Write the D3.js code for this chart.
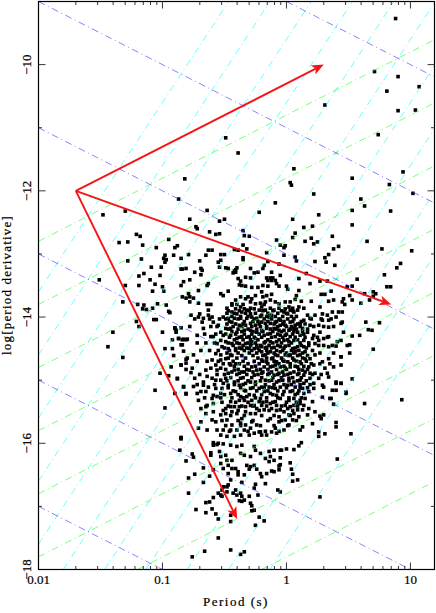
<!DOCTYPE html>
<html><head><meta charset="utf-8">
<script src="https://cdn.jsdelivr.net/npm/d3@7"></script>
<style>html,body{margin:0;padding:0;background:#fff}svg{display:block}text{font-family:"Liberation Serif",serif;fill:#000;stroke:#000;stroke-width:.22px}</style>
</head><body><div id="chart"></div>
<script>
// ---------- data (log10 period [s], log10 period derivative) ----------
const xTickValues = [0.01, 0.1, 1, 10];
const xTickLabels = ["0.01", "0.1", "1", "10"];
const yTickValues = [-10, -12, -14, -16, -18];
const yMinorValues = [-11, -13, -15, -17];
const xTitle = "Period (s)";
const yTitle = "log[period derivative]";
const bFieldLevels = [-9, -11, -13, -15, -17, -19];               // log(P*Pdot)
const ageLevels = [-10.8, -11.8, -12.8, -13.8, -14.8, -15.8, -16.8, -17.8]; // log(Pdot/P)
const edotLevels = [-7.6, -8.6, -9.6, -10.6, -11.6, -12.6, -13.6, -14.6, -15.6, -16.6, -17.6]; // log(Pdot/P^3)
const arrowOrigin = [0.02, -12];
const arrowTargets = [[2, -10], [7, -13.8], [0.4, -17.2]];

const pulsarsUpperLeft = [[-0.82,-11.81],[-0.87,-12.13],[-1.48,-12.38],[-1.30,-12.32],[-0.64,-12.31],[-0.78,-12.45],[-0.73,-12.57],[-0.72,-12.60],[-0.62,-12.65],[-0.57,-12.69],[-1.21,-12.69],[-1.18,-12.72],[-0.95,-12.77],[-1.35,-12.82],[-1.28,-12.81],[-1.16,-12.86],[-1.05,-12.90],[-0.90,-12.90],[-0.88,-12.87],[-0.63,-12.94],[-0.60,-12.94],[-0.79,-13.01],[-0.98,-13.02],[-0.91,-13.02],[-0.99,-13.07],[-0.97,-13.09],[-1.28,-13.11],[-1.17,-13.08],[-0.85,-13.07],[-0.70,-13.11],[-0.65,-13.02],[-0.98,-13.13],[-1.09,-13.21],[-1.01,-13.21],[-0.85,-13.24],[-0.84,-13.24],[-0.81,-13.23],[-0.69,-13.23],[-0.68,-13.26],[-1.15,-13.31],[-1.19,-13.35],[-1.02,-13.34],[-0.74,-13.29],[-0.69,-13.33],[-1.51,-13.41],[-1.10,-13.41],[-0.83,-13.44],[-0.78,-13.41],[-0.63,-13.47],[-0.64,-13.50],[-1.30,-13.50],[-1.19,-13.50],[-1.06,-13.48],[-0.85,-13.50],[-1.00,-13.52],[-0.99,-13.59],[-1.08,-13.59],[-0.71,-13.58],[-0.84,-13.68],[-0.79,-13.63],[-0.78,-13.68],[-0.81,-13.70],[-0.75,-13.70],[-1.32,-13.76],[-0.78,-13.76],[-1.20,-13.80],[-1.04,-13.79],[-0.71,-13.78],[-0.64,-13.80],[-0.61,-13.80],[-1.15,-13.81],[-0.97,-13.81]];

const pulsarsUpperRight = [[0.88,-9.27],[0.71,-10.11],[0.90,-10.19],[1.07,-10.35],[0.81,-10.42],[0.31,-10.64],[0.90,-10.73],[1.04,-10.72],[0.74,-11.11],[-0.49,-11.16],[-0.39,-11.40],[0.06,-11.65],[0.94,-11.70],[0.53,-11.80],[0.03,-11.87],[0.04,-11.91],[0.83,-11.90],[0.22,-12.05],[1.02,-12.04],[0.60,-12.13],[-0.09,-12.19],[0.63,-12.24],[0.53,-12.31],[0.84,-12.32],[-0.22,-12.34],[0.26,-12.38],[0.53,-12.54],[-0.50,-12.45],[-0.54,-12.48],[0.05,-12.45],[0.14,-12.58],[0.21,-12.56],[-0.35,-12.63],[0.07,-12.67],[0.05,-12.74],[-0.54,-12.68],[-0.34,-12.71],[-0.30,-12.72],[0.37,-12.72],[0.20,-12.75],[0.65,-12.80],[-0.08,-12.78],[0.15,-12.80],[0.25,-12.81],[0.22,-12.84],[-0.35,-12.86],[-0.05,-12.86],[-0.01,-12.87],[-0.02,-12.90],[0.42,-12.88],[0.38,-12.92],[-0.32,-12.92],[-0.42,-12.93],[-0.39,-12.94],[-0.16,-12.98],[0.77,-12.92],[1.01,-12.95],[0.34,-13.01],[-0.02,-13.02],[-0.53,-13.01],[-0.50,-13.01],[0.07,-13.05],[0.31,-13.06],[-0.35,-13.06],[-0.35,-13.09],[-0.53,-13.10],[0.08,-13.11],[0.23,-13.12],[0.32,-13.13],[-0.15,-13.12],[-0.55,-13.13],[0.92,-13.15],[-0.06,-13.16],[0.39,-13.18],[0.89,-13.22],[-0.18,-13.18],[-0.19,-13.23],[-0.54,-13.21],[-0.49,-13.22],[-0.47,-13.23],[-0.40,-13.22],[-0.29,-13.23],[-0.42,-13.27],[-0.41,-13.25],[-0.43,-13.30],[-0.41,-13.29],[-0.23,-13.29],[-0.26,-13.30],[-0.12,-13.29],[-0.05,-13.34],[0.16,-13.31],[0.79,-13.33],[-0.33,-13.37],[-0.29,-13.38],[-0.16,-13.38],[-0.13,-13.38],[-0.11,-13.38],[-0.15,-13.42],[-0.12,-13.42],[-0.09,-13.42],[0.10,-13.39],[-0.39,-13.39],[-0.37,-13.43],[-0.38,-13.49],[-0.36,-13.50],[0.57,-13.40],[0.27,-13.43],[0.33,-13.43],[0.19,-13.47],[0.81,-13.52],[0.84,-13.52],[0.53,-13.51],[0.49,-13.52],[-0.33,-13.51],[-0.28,-13.53],[-0.23,-13.53],[-0.19,-13.50],[-0.15,-13.51],[-0.08,-13.47],[-0.06,-13.51],[0.00,-13.51],[0.01,-13.56],[0.10,-13.58],[0.08,-13.66],[-0.47,-13.59],[-0.53,-13.63],[-0.51,-13.66],[-0.20,-13.60],[0.36,-13.59],[0.63,-13.63],[0.70,-13.60],[0.72,-13.63],[0.51,-13.66],[0.46,-13.71],[0.45,-13.76],[0.47,-13.80],[0.28,-13.64],[0.31,-13.64],[0.53,-13.73],[0.67,-13.73],[0.70,-13.67],[0.60,-13.78],[0.34,-13.75],[0.38,-13.73],[-0.12,-13.64],[-0.16,-13.66],[-0.19,-13.68],[-0.25,-13.66],[-0.28,-13.71],[-0.31,-13.68],[-0.33,-13.71],[-0.37,-13.68],[-0.41,-13.73],[-0.44,-13.79],[-0.40,-13.80],[-0.29,-13.76],[-0.25,-13.79],[-0.21,-13.78],[-0.17,-13.76],[-0.13,-13.73],[-0.09,-13.76],[-0.06,-13.79],[-0.01,-13.76],[0.03,-13.76],[0.07,-13.72]];

const pulsarsRightEdge = [[0.64,-14.08],[0.75,-14.09],[0.66,-14.20],[0.69,-14.21],[0.53,-14.30],[0.59,-14.29],[0.70,-14.51],[0.51,-14.44],[0.49,-14.45],[0.51,-14.57],[0.44,-14.63],[0.53,-14.98],[0.40,-15.03],[0.44,-15.05],[0.48,-15.19],[0.40,-15.16],[0.36,-15.29],[0.38,-15.38],[0.63,-15.37],[0.93,-15.31],[0.40,-15.67],[0.40,-15.74],[0.52,-15.85],[0.31,-15.85],[0.26,-15.82],[0.26,-15.89],[0.41,-16.25],[0.27,-16.85],[0.27,-15.57],[0.28,-15.61],[0.21,-15.69]];

const pulsarsLowerCore = [[0.05,-16.60],[0.09,-16.58],[0.03,-16.31],[0.04,-16.41],[0.05,-16.49],[0.12,-15.99],[0.10,-16.04],[0.06,-16.10],[0.00,-16.09],[-0.04,-16.11],[-0.05,-16.23],[-0.06,-16.36],[-0.12,-16.44],[-0.22,-17.17],[-0.18,-17.23],[-0.25,-17.30],[-0.45,-17.14],[-0.45,-17.24],[-0.45,-17.69],[-0.37,-17.76],[-0.34,-17.72],[-0.55,-17.20],[-0.55,-17.50],[-0.86,-16.11],[-0.76,-16.17],[-0.75,-16.22],[-0.81,-16.28],[-0.61,-16.19],[-0.67,-16.39],[-0.59,-16.42],[-0.74,-16.49],[-0.79,-16.55],[-0.62,-16.52],[-0.67,-16.62],[-0.79,-16.79],[-0.65,-16.94],[-0.62,-16.93],[-0.59,-16.86],[-0.73,-17.05],[-0.60,-17.04],[-0.65,-17.10],[-0.57,-17.12],[-0.66,-17.71],[-0.76,-17.80],[-0.53,-16.82],[-0.52,-16.84],[-0.55,-16.79],[-0.52,-16.74],[-0.51,-16.69],[-0.48,-16.69],[-0.47,-16.66],[-0.45,-16.58],[-0.47,-16.48],[-0.48,-16.77],[-0.41,-16.74],[-0.43,-16.79],[-0.40,-16.82],[-0.37,-16.79],[-0.36,-16.84],[-0.30,-16.84],[-0.38,-16.91],[-0.36,-16.92],[-0.34,-16.90],[-0.29,-16.95],[-0.28,-16.99],[-0.26,-17.06],[-0.28,-17.07],[-0.07,-16.74],[-0.05,-16.77],[-0.26,-16.71],[-0.23,-16.82],[-0.36,-16.62],[-0.25,-16.65],[-0.17,-16.64],[-0.39,-16.50],[-0.34,-16.50],[-0.29,-16.37],[-0.32,-16.35],[-0.26,-16.35],[-0.30,-16.41],[-0.24,-16.41],[-0.21,-16.48],[-0.20,-16.53],[-0.16,-16.48],[-0.10,-16.45],[-0.06,-16.42],[-0.05,-16.34],[-0.59,-16.03],[-0.55,-16.00],[-0.51,-16.01],[-0.45,-16.03],[-0.40,-16.05],[-0.36,-16.03],[-0.54,-16.13],[-0.53,-16.21],[-0.49,-16.19],[-0.48,-16.27],[-0.53,-16.32],[-0.44,-16.27],[-0.37,-16.16],[-0.34,-16.19],[-0.29,-16.21],[-0.25,-16.11],[-0.21,-16.16],[-0.14,-16.13],[-0.10,-16.11],[-0.05,-16.11],[-0.26,-16.05],[-0.17,-16.24],[-0.13,-16.21],[-0.10,-16.27],[-0.14,-16.29],[-0.51,-16.40],[-0.41,-16.40],[-0.39,-16.45],[-0.47,-16.35],[-0.44,-16.40]];

const pulsarsLeftEdge = [[-1.40,-14.24],[-1.44,-14.47],[-1.32,-14.64],[-1.21,-14.07],[-1.19,-14.15],[-1.16,-13.87],[-1.13,-13.88],[-1.08,-13.86],[-1.07,-14.04],[-1.05,-14.04],[-1.00,-14.24],[-0.94,-13.93],[-0.95,-13.91],[-0.90,-14.17],[-0.89,-14.21],[-0.85,-14.17],[-0.92,-14.36],[-0.87,-14.34],[-0.84,-14.36],[-0.81,-14.36],[-0.98,-14.50],[-0.92,-14.50],[-0.91,-14.61],[-0.83,-14.54],[-0.84,-14.44],[-1.02,-14.89],[-0.95,-14.93],[-0.93,-14.79],[-0.85,-14.76],[-1.06,-15.16],[-0.90,-15.21],[-0.81,-15.22],[-0.98,-15.44],[-0.88,-14.98],[-0.83,-15.10],[-0.81,-14.83],[-0.81,-14.73],[-0.80,-14.65],[-0.85,-15.93],[-0.85,-15.91],[-0.61,-16.15],[-0.59,-15.99],[-0.56,-16.02]];

const pulsarsCoreNW = [[-0.44,-13.81],[-0.37,-13.84],[-0.41,-13.87],[-0.34,-13.87],[-0.26,-13.87],[-0.63,-13.89],[-0.32,-13.89],[-0.22,-13.89],[-0.44,-13.92],[-0.36,-13.92],[-0.70,-13.95],[-0.40,-13.95],[-0.29,-13.95],[-0.77,-13.97],[-0.63,-13.97],[-0.71,-14.00],[-0.60,-14.00],[-0.51,-14.00],[-0.28,-14.00],[-0.67,-14.02],[-0.47,-14.02],[-0.42,-14.02],[-0.37,-14.02],[-0.32,-14.02],[-0.24,-14.02],[-0.68,-14.08],[-0.59,-14.08],[-0.44,-14.08],[-0.29,-14.10],[-0.55,-14.13],[-0.38,-14.13],[-0.33,-14.13],[-0.25,-14.13],[-0.90,-14.18],[-0.67,-14.18],[-0.49,-14.18],[-0.45,-14.18],[-0.34,-14.21],[-0.29,-14.21],[-0.89,-14.24],[-0.53,-14.24],[-0.40,-14.24],[-0.24,-14.24],[-0.72,-14.29],[-0.51,-14.29],[-0.45,-14.29],[-0.59,-14.31],[-0.61,-14.31],[-0.36,-14.31],[-0.30,-14.31],[-0.87,-14.34],[-0.40,-14.34],[-0.25,-14.34],[-0.83,-14.35],[-0.80,-14.35],[-0.53,-14.37],[-0.49,-14.39],[-0.28,-14.39],[-0.56,-14.42],[-0.44,-14.42],[-0.38,-14.42],[-0.33,-14.42],[-0.28,-14.42],[-0.85,-14.44],[-0.24,-14.45],[-0.52,-14.47],[-0.47,-14.50],[-0.41,-14.50],[-0.36,-14.50],[-0.30,-14.50],[-0.26,-14.50]];

const pulsarsCoreNE = [[-0.20,-13.84],[-0.17,-13.89],[-0.20,-13.97],[-0.14,-14.00],[-0.12,-13.97],[-0.10,-13.89],[-0.01,-13.87],[0.02,-13.84],[-0.02,-13.92],[0.01,-13.95],[0.03,-13.89],[0.06,-13.92],[0.09,-13.89],[0.10,-13.84],[0.17,-13.97],[0.23,-13.97],[0.27,-13.84],[0.29,-13.95],[0.33,-13.97],[0.37,-13.92],[0.42,-13.92],[0.45,-13.92],[-0.20,-14.08],[-0.17,-14.10],[-0.13,-14.10],[-0.09,-14.08],[-0.05,-14.05],[-0.05,-14.13],[-0.01,-14.13],[0.03,-14.08],[0.07,-14.13],[0.11,-14.10],[0.14,-14.05],[0.19,-14.02],[0.29,-14.05],[0.34,-14.05],[0.40,-14.00],[0.45,-14.08],[-0.20,-14.21],[-0.16,-14.18],[-0.10,-14.18],[-0.06,-14.21],[-0.02,-14.21],[0.02,-14.21],[0.06,-14.18],[0.09,-14.24],[0.13,-14.18],[0.19,-14.13],[0.26,-14.13],[0.34,-14.16],[0.44,-14.10],[0.46,-14.24],[-0.18,-14.29],[-0.13,-14.26],[-0.09,-14.31],[-0.05,-14.29],[-0.01,-14.29],[0.03,-14.31],[0.11,-14.29],[0.17,-14.24],[0.21,-14.34],[0.27,-14.24],[0.34,-14.31],[-0.17,-14.39],[-0.13,-14.39],[-0.08,-14.39],[-0.02,-14.37],[0.02,-14.39],[0.06,-14.37],[0.14,-14.37],[0.22,-14.29],[0.26,-14.37],[0.30,-14.34],[0.41,-14.39],[-0.20,-14.47],[-0.16,-14.48],[-0.10,-14.48],[-0.05,-14.47],[-0.01,-14.46],[0.05,-14.50],[0.09,-14.47],[0.14,-14.47],[0.18,-14.45],[0.23,-14.42],[0.30,-14.45],[0.34,-14.47],[0.40,-14.46],[0.44,-14.37]];

const pulsarsCoreSW = [[-0.81,-14.67],[-0.85,-14.76],[-0.75,-14.60],[-0.76,-14.81],[-0.77,-14.88],[-0.65,-14.84],[-0.64,-14.94],[-0.74,-14.97],[-0.88,-14.97],[-0.75,-15.10],[-0.83,-15.11],[-0.81,-15.21],[-0.72,-15.21],[-0.69,-15.18],[-0.65,-15.18],[-0.67,-15.03],[-0.67,-15.08],[-0.60,-14.97],[-0.63,-15.11],[-0.57,-15.13],[-0.59,-15.24],[-0.71,-15.32],[-0.69,-15.45],[-0.65,-15.42],[-0.64,-15.40],[-0.59,-15.37],[-0.60,-15.29],[-0.56,-15.26],[-0.53,-15.21],[-0.52,-15.13],[-0.51,-15.05],[-0.47,-15.08],[-0.49,-14.97],[-0.53,-15.00],[-0.57,-15.00],[-0.56,-14.84],[-0.61,-14.81],[-0.57,-14.76],[-0.53,-14.81],[-0.51,-14.74],[-0.60,-14.68],[-0.57,-14.58],[-0.53,-14.60],[-0.49,-14.66],[-0.53,-14.68],[-0.45,-14.60],[-0.45,-14.76],[-0.41,-14.74],[-0.42,-14.84],[-0.38,-14.89],[-0.47,-14.89],[-0.37,-14.97],[-0.42,-15.03],[-0.38,-15.08],[-0.34,-14.87],[-0.30,-14.84],[-0.26,-14.92],[-0.28,-14.79],[-0.24,-14.84],[-0.33,-15.05],[-0.29,-15.03],[-0.25,-15.03],[-0.34,-15.16],[-0.41,-15.18],[-0.45,-15.21],[-0.29,-15.13],[-0.22,-15.13],[-0.37,-15.26],[-0.32,-15.26],[-0.26,-15.24],[-0.38,-15.32],[-0.34,-15.32],[-0.28,-15.32],[-0.22,-15.34],[-0.45,-15.34],[-0.49,-15.45],[-0.45,-15.42],[-0.42,-15.42],[-0.44,-15.50],[-0.49,-15.53],[-0.53,-15.55],[-0.57,-15.66],[-0.60,-15.63],[-0.38,-15.42],[-0.33,-15.42],[-0.29,-15.40],[-0.26,-15.40],[-0.24,-15.45],[-0.40,-15.53],[-0.36,-15.61],[-0.33,-15.50],[-0.29,-15.53],[-0.25,-15.53],[-0.59,-15.50],[-0.65,-15.53],[-0.71,-15.76],[-0.64,-15.79],[-0.69,-15.66],[-0.48,-15.63],[-0.44,-15.71],[-0.37,-15.68],[-0.33,-15.71],[-0.28,-15.66],[-0.24,-15.71],[-0.56,-15.79],[-0.51,-15.79],[-0.45,-15.79],[-0.40,-15.79],[-0.34,-15.79],[-0.29,-15.76],[-0.53,-15.87],[-0.48,-15.89],[-0.42,-15.89],[-0.37,-15.87],[-0.30,-15.87],[-0.26,-15.84],[-0.85,-15.91],[-0.22,-15.82]];

const pulsarsCoreSE = [[-0.20,-14.55],[-0.13,-14.55],[-0.05,-14.55],[0.07,-14.55],[0.15,-14.55],[-0.17,-14.60],[-0.09,-14.60],[-0.01,-14.60],[0.03,-14.60],[0.11,-14.60],[0.23,-14.60],[0.44,-14.63],[-0.12,-14.66],[0.15,-14.66],[0.19,-14.66],[0.34,-14.66],[-0.20,-14.68],[-0.03,-14.68],[0.06,-14.68],[-0.16,-14.71],[-0.08,-14.71],[0.01,-14.71],[0.11,-14.71],[0.29,-14.71],[-0.09,-14.76],[0.22,-14.76],[0.44,-14.76],[-0.18,-14.79],[-0.13,-14.79],[-0.05,-14.79],[0.03,-14.79],[0.09,-14.79],[0.18,-14.79],[0.38,-14.79],[-0.01,-14.81],[0.31,-14.81],[0.13,-14.84],[-0.20,-14.89],[-0.14,-14.89],[-0.06,-14.89],[0.03,-14.89],[0.10,-14.89],[0.19,-14.89],[0.23,-14.89],[0.33,-14.89],[-0.10,-14.92],[-0.02,-14.92],[0.14,-14.92],[0.34,-14.95],[0.02,-14.97],[0.19,-14.97],[0.26,-14.97],[-0.17,-15.00],[-0.12,-15.00],[-0.03,-15.00],[0.11,-15.00],[-0.08,-15.03],[0.06,-15.03],[0.14,-15.05],[0.22,-15.05],[0.40,-15.05],[0.44,-15.05],[0.29,-15.08],[0.01,-15.08],[-0.20,-15.11],[-0.14,-15.11],[-0.05,-15.11],[0.07,-15.11],[0.30,-15.11],[-0.09,-15.13],[0.13,-15.13],[0.22,-15.13],[0.37,-15.16],[-0.18,-15.18],[-0.02,-15.18],[0.03,-15.18],[0.18,-15.18],[-0.13,-15.21],[0.09,-15.21],[0.14,-15.21],[0.48,-15.21],[-0.08,-15.24],[0.29,-15.27],[-0.21,-15.29],[-0.05,-15.29],[0.06,-15.29],[0.15,-15.29],[0.35,-15.29],[0.02,-15.32],[0.11,-15.32],[-0.16,-15.34],[-0.09,-15.34],[0.21,-15.34],[-0.13,-15.37],[0.11,-15.37],[-0.20,-15.40],[-0.08,-15.40],[-0.01,-15.40],[0.06,-15.40],[0.14,-15.40],[0.03,-15.42],[-0.12,-15.45],[0.01,-15.45],[0.18,-15.45],[-0.18,-15.47],[-0.05,-15.47],[0.09,-15.47],[0.13,-15.47],[-0.02,-15.50],[0.23,-15.50],[0.06,-15.53],[0.02,-15.55],[0.17,-15.55],[0.30,-15.55],[-0.06,-15.58],[0.10,-15.58],[-0.13,-15.61],[-0.01,-15.63],[0.05,-15.63],[-0.06,-15.66],[0.02,-15.71],[0.13,-15.74],[-0.09,-15.76],[0.11,-15.79],[-0.02,-15.79],[-0.12,-15.82],[-0.21,-15.82],[-0.08,-15.84],[-0.16,-15.87],[-0.20,-15.87]];

// dense central blob: rows of log Pdot with the log P values seen along each row
const denseRowPdot = [-13.75,-13.80,-13.86,-13.90,-13.94,-13.99,-14.03,-14.07,-14.11,-14.15,-14.19,-14.23,-14.27,-14.32,-14.36,-14.41,-14.45,-14.49,-14.53,-14.57,-14.61,-14.65,-14.70,-14.74,-14.78,-14.83,-14.87,-14.91,-14.96,-15.01,-15.07,-15.12,-15.17,-15.23,-15.28,-15.35,-15.41,-15.48,-15.56,-15.64,-15.72,-15.81];
const denseRowPeriods = [
 [0.12,0.20],[-0.35,-0.18],[-0.48,-0.29,-0.13,-0.06,0.05,0.14],
 [-0.47,-0.38,-0.30,-0.19,-0.11,-0.04,0.05],[-0.48,-0.42,-0.33,-0.25,-0.15,-0.07,0.00],
 [-0.44,-0.37,-0.31,-0.21,-0.16,-0.09,-0.03,0.04,0.08],[-0.49,-0.39,-0.26,-0.18,-0.12,-0.06,0.01,0.06,-0.74,-0.62,-0.54,0.20,0.28,0.36],
 [-0.46,-0.34,-0.27,-0.23,-0.15,-0.08,-0.02,0.05,0.12],[-0.48,-0.41,-0.35,-0.22,-0.10,-0.03,0.09,0.15],
 [-0.43,-0.36,-0.28,-0.21,-0.16,-0.07,0.00,0.04,0.11,-0.78,-0.61,-0.56,0.22,0.30,0.38],[-0.47,-0.39,-0.31,-0.24,-0.13,-0.08,0.03,0.08,0.17],
 [-0.44,-0.36,-0.27,-0.19,-0.11,-0.04,0.06,0.13],[-0.49,-0.41,-0.34,-0.28,-0.22,-0.15,-0.07,0.00,0.05,0.14,-0.66,-0.57],
 [-0.46,-0.38,-0.32,-0.26,-0.20,-0.12,-0.03,0.07,0.15,0.25,0.33],[-0.42,-0.35,-0.29,-0.23,-0.15,-0.06,0.01,0.09],
 [-0.47,-0.40,-0.31,-0.25,-0.18,-0.11,-0.04,0.04,0.11,0.18,-0.72,-0.65,-0.58],[-0.43,-0.35,-0.29,-0.21,-0.14,-0.07,0.02,0.12,0.26,0.37],
 [-0.50,-0.38,-0.32,-0.23,-0.17,-0.12,-0.02,0.07,0.16],[-0.46,-0.41,-0.34,-0.28,-0.22,-0.16,-0.08,-0.03,0.04,0.10,0.21,-0.69,-0.62,-0.55],
 [-0.48,-0.39,-0.30,-0.24,-0.15,-0.10,0.00,0.06,0.13,0.27,0.38],[-0.44,-0.36,-0.27,-0.19,-0.07,0.02,0.09,0.17],
 [-0.47,-0.40,-0.33,-0.23,-0.16,-0.11,-0.04,0.05,0.13],[-0.43,-0.35,-0.26,-0.19,-0.10,-0.02,0.08,0.16,-0.72,-0.64,-0.55],
 [-0.46,-0.38,-0.31,-0.22,-0.15,-0.06,0.03,0.12,0.20,0.27,0.35],[-0.42,-0.34,-0.25,-0.11,-0.02,0.07,0.14],
 [-0.49,-0.39,-0.32,-0.21,-0.15,-0.08,0.00,0.10,0.17],[-0.44,-0.36,-0.27,-0.19,-0.12,-0.03,0.06,0.15],
 [-0.50,-0.40,-0.32,-0.23,-0.15,-0.07,0.01,0.09,0.21,-0.70,-0.56,0.28],[-0.45,-0.35,-0.28,-0.20,-0.11,-0.04,0.05,0.12],
 [-0.48,-0.39,-0.31,-0.21,-0.14,-0.06,0.02,0.09,0.16],[-0.42,-0.35,-0.25,-0.17,-0.10,-0.02,0.04,0.11,0.19,-0.58,-0.72],
 [-0.47,-0.37,-0.27,-0.18,-0.11,0.00,0.11,0.17],[-0.43,-0.33,-0.24,-0.15,-0.07,0.05,0.10],
 [-0.50,-0.39,-0.30,-0.20,-0.11,-0.03,0.07],[-0.44,-0.35,-0.25,-0.16,-0.07,0.02,0.12,-0.66,-0.53],
 [-0.52,-0.41,-0.31,-0.19,-0.11,0.00,0.08],[-0.47,-0.36,-0.27,-0.16,-0.04,0.09],
 [-0.51,-0.39,-0.22,-0.14,-0.08,0.05],[-0.45,-0.34,-0.20,-0.10,0.03],
 [-0.52,-0.39,-0.27,-0.15,-0.04,0.08],[-0.49,-0.37,-0.21,-0.10,0.01],[-0.46,-0.31,-0.17,-0.06]
];

// ---------- chart ----------
const W = 436, H = 613;
const plot = {l: 38.5, r: 434.5, t: 1.5, b: 569.5};
const x = d3.scaleLog().domain([0.01, 15.63]).range([plot.l, plot.r]);
const y = d3.scaleLinear().domain([-9, -18]).range([plot.t, plot.b]);
const svg = d3.select("#chart").append("svg").attr("width", W).attr("height", H);
svg.append("clipPath").attr("id", "plotClip").append("rect")
  .attr("x", plot.l).attr("y", plot.t).attr("width", plot.r - plot.l).attr("height", plot.b - plot.t);

const densePulsars = denseRowPdot.flatMap((pd, i) => denseRowPeriods[i].map(lp => [lp, pd]));
const pulsars = [].concat(pulsarsUpperLeft, pulsarsUpperRight, pulsarsRightEdge, pulsarsLowerCore, pulsarsLeftEdge, pulsarsCoreNW, pulsarsCoreNE, pulsarsCoreSW, pulsarsCoreSE, densePulsars);
const S = 3.6;
svg.append("g").selectAll("rect").data(pulsars).join("rect")
  .attr("x", d => x(Math.pow(10, d[0])) - S / 2)
  .attr("y", d => y(d[1]) - S / 2)
  .attr("width", S).attr("height", S).attr("fill", "#000");

// constant-B, constant-age, constant-Edot lines: log Pdot = c + slope * log P
const pMin = 0.01, pMax = 15.63;
const guide = svg.append("g").attr("clip-path", "url(#plotClip)").attr("fill", "none").attr("stroke-width", 0.6);
function drawFamily(levels, slope, color, cls) {
  const line = d3.line().x(d => x(d[0])).y(d => y(d[1]));
  guide.selectAll("path." + cls).data(levels).join("path").attr("class", cls)
    .attr("d", c => {
      let a = Math.log10(pMin), b = Math.log10(pMax);
      const la = (-18 - c) / slope, lb = (-9 - c) / slope;
      const lo = Math.min(la, lb), hi = Math.max(la, lb);
      a = Math.max(a, lo); b = Math.min(b, hi);
      return line([[Math.pow(10, a), c + slope * a], [Math.pow(10, b), c + slope * b]]);
    })
    .attr("stroke", color).attr("stroke-dasharray", "7 3.5 1 3.5");
}
drawFamily(edotLevels, 3, "#00ffff", "edot");
drawFamily(ageLevels, 1, "#22ff22", "age");
drawFamily(bFieldLevels, -1, "#3333ff", "bfield");

// arrows
const arrows = svg.append("g");
arrowTargets.forEach(t => {
  const x0 = x(arrowOrigin[0]), y0 = y(arrowOrigin[1]), x1 = x(t[0]), y1 = y(t[1]);
  const a = Math.atan2(y1 - y0, x1 - x0), L = 12, w = 5, back = 9;
  const px = (f, s) => [x1 - f * Math.cos(a) - s * Math.sin(a), y1 - f * Math.sin(a) + s * Math.cos(a)];
  arrows.append("line").attr("x1", x0).attr("y1", y0)
    .attr("x2", px(back, 0)[0]).attr("y2", px(back, 0)[1])
    .attr("stroke", "#f51414").attr("stroke-width", 1.9);
  arrows.append("path").attr("fill", "#f51414")
    .attr("d", "M" + [x1, y1] + "L" + px(L, w) + "L" + px(back, 0) + "L" + px(L, -w) + "Z");
});

// frame and ticks
const ax = svg.append("g").attr("stroke", "#000").attr("fill", "none");
ax.append("rect").attr("x", plot.l).attr("y", plot.t).attr("width", plot.r - plot.l).attr("height", plot.b - plot.t).attr("stroke-width", 1.2);
const xMinor = x.ticks().filter(v => v > 0.01 && v < 15.63 && !xTickValues.includes(v));
const tickMaj = 7, tickMin = 3.5;
[[xTickValues, tickMaj], [xMinor, tickMin]].forEach(([vals, len]) => {
  vals.forEach(v => {
    const px = x(v);
    ax.append("line").attr("x1", px).attr("x2", px).attr("y1", plot.b).attr("y2", plot.b - len).attr("stroke-width", 0.8);
    ax.append("line").attr("x1", px).attr("x2", px).attr("y1", plot.t).attr("y2", plot.t + len).attr("stroke-width", 0.8);
  });
});
[[yTickValues, tickMaj], [yMinorValues, tickMin]].forEach(([vals, len]) => {
  vals.forEach(v => {
    const py = y(v);
    ax.append("line").attr("y1", py).attr("y2", py).attr("x1", plot.l).attr("x2", plot.l + len).attr("stroke-width", 0.8);
    ax.append("line").attr("y1", py).attr("y2", py).attr("x1", plot.r).attr("x2", plot.r - len).attr("stroke-width", 0.8);
  });
});

// labels
const fs = 13;
svg.append("g").selectAll("text").data(xTickValues).join("text")
  .attr("x", d => x(d)).attr("y", 584).attr("text-anchor", "middle")
  .attr("font-size", fs).text((d, i) => xTickLabels[i]);
svg.append("g").selectAll("text").data(yTickValues).join("text")
  .attr("transform", d => "translate(31," + y(d) + ") rotate(-90)")
  .attr("text-anchor", "middle").attr("font-size", fs)
  .text(d => "\u2212" + Math.abs(d));
svg.append("text").attr("x", 236).attr("y", 606).attr("text-anchor", "middle")
  .attr("font-size", fs).attr("letter-spacing", 1.5).text(xTitle);
svg.append("text").attr("transform", "translate(11,285) rotate(-90)").attr("text-anchor", "middle")
  .attr("font-size", fs).attr("letter-spacing", 1.2).text(yTitle);
</script></body></html>
